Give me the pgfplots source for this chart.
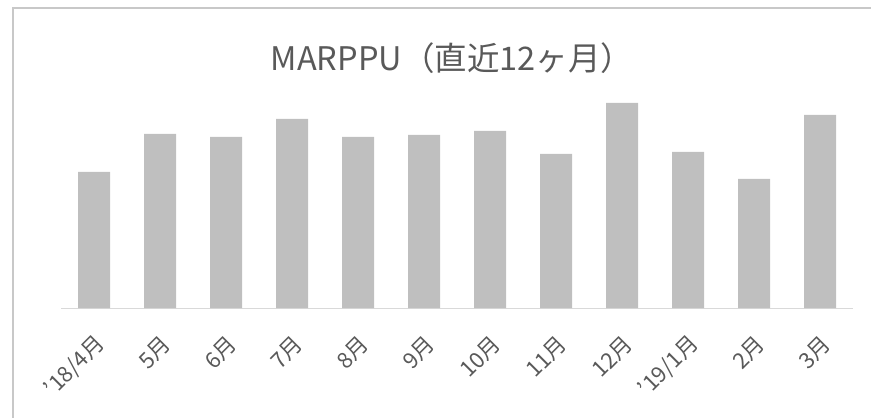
\documentclass[border=0pt]{standalone}
\usepackage{pgfplots}
\pgfplotsset{compat=1.18}
\usepackage{fontspec}
\setmainfont{Noto Sans CJK JP}
\definecolor{barc}{HTML}{BFBFBF}
\definecolor{axl}{HTML}{D9D9D9}
\definecolor{txt}{HTML}{595959}
\definecolor{framec}{HTML}{C8C8C8}
\newcommand{\tl}[1]{\mbox{\fontsize{22}{24}\selectfont #1}}
\begin{document}
\begin{tikzpicture}
\path[use as bounding box] (0pt,0pt) rectangle (871pt,418pt);
\draw[framec, line width=1.5pt] (13pt,0pt) -- (13pt,410pt) -- (871pt,410pt);
\begin{axis}[
  at={(61pt,110pt)}, anchor=south west,
  scale only axis, width=792pt, height=215pt,
  xmin=-0.5, xmax=11.5, ymin=0, ymax=215,
  hide y axis,
  axis x line*=bottom,
  x axis line style={axl, line width=1pt},
  xtick=data,
  xtick style={draw=none},
  xticklabels={\tl{'18/4月},\tl{5月},\tl{6月},\tl{7月},\tl{8月},\tl{9月},\tl{10月},\tl{11月},\tl{12月},\tl{'19/1月},\tl{2月},\tl{3月}},
  xticklabel style={xshift=7pt, yshift=-28pt, rotate=45, anchor=east, text=txt, inner sep=0pt},
  ybar, bar width=32pt,
  clip=false,
]
\addplot[fill=barc, draw=none] coordinates {
(0,136) (1,174) (2,171) (3,189) (4,171) (5,173) (6,177) (7,154) (8,205) (9,156) (10,129) (11,193)
};
\end{axis}
\node[text=txt, font=\fontsize{32.5}{33}\selectfont] at (452pt,360pt) {MARPPU（直近12ヶ月）};
\end{tikzpicture}
\end{document}
